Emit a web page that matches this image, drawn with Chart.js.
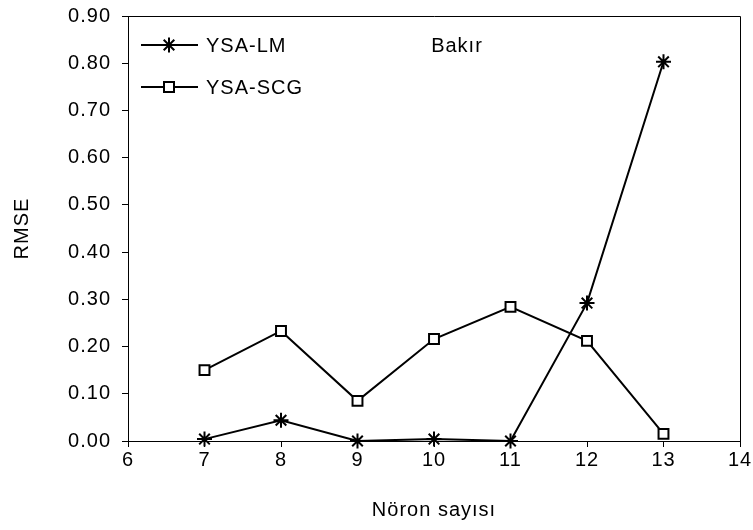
<!DOCTYPE html>
<html>
<head>
<meta charset="utf-8">
<script src="https://cdn.jsdelivr.net/npm/chart.js@4/dist/chart.umd.min.js"></script>
<style>
  html, body { margin: 0; padding: 0; background: #fff; }
  #wrap { width: 753px; height: 530px; position: relative; }
</style>
</head>
<body>
<div id="wrap"><canvas id="c" width="753" height="530"></canvas></div>
<script>
const neurons = [7, 8, 9, 10, 11, 12, 13];
const ysaLM  = [0.004, 0.044, 0.000, 0.004, 0.000, 0.292, 0.803];
const ysaSCG = [0.150, 0.233, 0.085, 0.216, 0.284, 0.212, 0.015];
const seriesNames = ['YSA-LM', 'YSA-SCG'];
const chartLabel = 'Bakır';
const xTitle = 'Nöron sayısı';
const yTitle = 'RMSE';

const FONT = "'Liberation Sans', Arial, sans-serif";
const FS = 20;
const LS = '1px';

const toXY = (xs, ys) => xs.map((x, i) => ({ x: x, y: ys[i] }));

const spacingPlugin = {
  id: 'spacing',
  beforeLayout(chart) { chart.ctx.letterSpacing = LS; },
  beforeDraw(chart) { chart.ctx.letterSpacing = LS; }
};

function drawStar(ctx, x, y, r) {
  const d = r * Math.SQRT1_2;
  ctx.beginPath();
  ctx.moveTo(x, y - r); ctx.lineTo(x, y + r);
  ctx.moveTo(x - r, y); ctx.lineTo(x + r, y);
  ctx.moveTo(x - d, y - d); ctx.lineTo(x + d, y + d);
  ctx.moveTo(x - d, y + d); ctx.lineTo(x + d, y - d);
  ctx.stroke();
}
function drawSquare(ctx, x, y, s) {
  ctx.fillStyle = '#fff';
  ctx.fillRect(x - s, y - s, 2 * s, 2 * s);
  ctx.strokeRect(x - s, y - s, 2 * s, 2 * s);
}

const framePlugin = {
  id: 'frame',
  beforeDatasetsDraw(chart) {
    const a = chart.chartArea, ctx = chart.ctx;
    ctx.save();
    ctx.strokeStyle = '#000';
    ctx.lineWidth = 1;
    ctx.beginPath();
    ctx.moveTo(a.left, a.top + 0.5);
    ctx.lineTo(a.right + 0.5, a.top + 0.5);
    ctx.lineTo(a.right + 0.5, a.bottom);
    ctx.stroke();
    ctx.restore();
  },
  afterDatasetsDraw(chart) {
    const ctx = chart.ctx;
    ctx.save();
    ctx.letterSpacing = LS;
    ctx.font = FS + 'px ' + FONT;
    ctx.textBaseline = 'middle';
    ctx.textAlign = 'left';
    // legend
    const rows = [45, 87];
    ctx.strokeStyle = '#000';
    ctx.lineWidth = 2;
    rows.forEach((ry, i) => {
      ctx.beginPath();
      ctx.moveTo(141, ry); ctx.lineTo(198, ry);
      ctx.stroke();
      if (i === 0) { drawStar(ctx, 169, ry, 7.5); }
      else { drawSquare(ctx, 169, ry, 5); }
      ctx.fillStyle = '#000';
      ctx.fillText(seriesNames[i], 206, ry + 1);
    });
    ctx.fillStyle = '#000';
    ctx.textAlign = 'center';
    ctx.fillText(chartLabel, 457, 46);
    ctx.restore();
  }
};

const ctx = document.getElementById('c').getContext('2d');
new Chart(ctx, {
  type: 'line',
  data: {
    datasets: [
      {
        label: seriesNames[0],
        data: toXY(neurons, ysaLM),
        borderColor: '#000',
        borderWidth: 2,
        pointStyle: 'star',
        pointRadius: 7.5,
        pointBorderWidth: 2,
        pointBorderColor: '#000',
        pointBackgroundColor: '#000',
        fill: false,
        tension: 0,
        clip: false
      },
      {
        label: seriesNames[1],
        data: toXY(neurons, ysaSCG),
        borderColor: '#000',
        borderWidth: 2,
        pointStyle: 'rect',
        pointRadius: 7,
        pointBorderWidth: 2,
        pointBorderColor: '#000',
        pointBackgroundColor: '#fff',
        fill: false,
        tension: 0,
        clip: false
      }
    ]
  },
  options: {
    responsive: false,
    animation: false,
    devicePixelRatio: 1,
    layout: { padding: { left: 0, top: 16, right: 13, bottom: 0 } },
    plugins: { legend: { display: false }, tooltip: { enabled: false } },
    scales: {
      x: {
        type: 'linear',
        min: 6, max: 14,
        afterFit(s) { s.height = 89; s.paddingLeft = 0; s.paddingRight = 0; },
        ticks: { stepSize: 1, color: '#000', padding: 1, font: { family: FONT, size: FS } },
        grid: { drawOnChartArea: false, drawTicks: true, tickLength: 6, color: '#000' },
        border: { color: '#000', width: 1 },
        title: { display: true, text: xTitle, color: '#000', font: { family: FONT, size: FS }, padding: { top: 0, bottom: 8 } }
      },
      y: {
        type: 'linear',
        min: 0, max: 0.9,
        afterFit(s) { s.width = 128; s.paddingTop = 0; s.paddingBottom = 0; },
        ticks: { stepSize: 0.1, color: '#000', padding: 11, font: { family: FONT, size: FS },
                 callback: v => v.toFixed(2) },
        grid: { drawOnChartArea: false, drawTicks: true, tickLength: 6, color: '#000' },
        border: { color: '#000', width: 1 },
        title: { display: true, text: yTitle, color: '#000', font: { family: FONT, size: FS }, padding: { top: 10, bottom: 0 } }
      }
    }
  },
  plugins: [spacingPlugin, framePlugin]
});
</script>
</body>
</html>
